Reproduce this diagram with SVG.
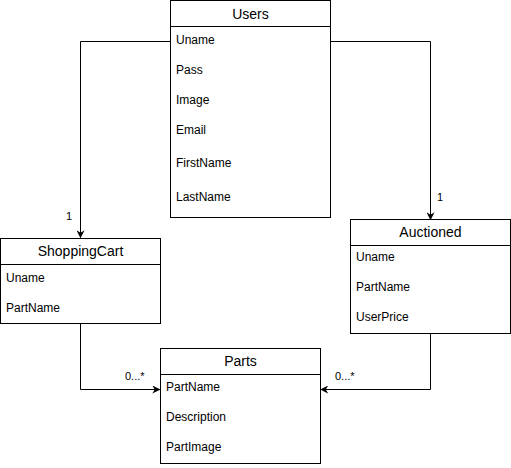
<svg xmlns="http://www.w3.org/2000/svg" width="511" height="468" viewBox="0 0 511 468">
<style>
.box{fill:#fff;stroke:#000;stroke-width:1}
.hd{font-family:"Liberation Sans",Arial,sans-serif;font-size:14px;fill:#000;text-anchor:middle}
.row{font-family:"Liberation Sans",Arial,sans-serif;font-size:12px;fill:#000}
.lbl{font-family:"Liberation Sans",Arial,sans-serif;font-size:11px;fill:#000}
.edge{fill:none;stroke:#000;stroke-width:1}
</style>
<defs>
<marker id="arr" viewBox="0 0 10 10" refX="9" refY="5" markerWidth="8" markerHeight="8" markerUnits="userSpaceOnUse" orient="auto">
<path d="M0,0 L10,5 L0,10 L3,5 Z" fill="#000"/>
</marker>
</defs>
<rect width="511" height="468" fill="#fff"/>
<g id="connectors">
<path class="edge" d="M170.5,41.5 H80.5 V237.5" marker-end="url(#arr)"/>
<path class="edge" d="M330.5,41.5 H430.5 V219.5" marker-end="url(#arr)"/>
<path class="edge" d="M80.5,324 V389.5 H159.5" marker-end="url(#arr)"/>
<path class="edge" d="M430.5,334 V389.5 H321" marker-end="url(#arr)"/>
<text class="lbl" x="66" y="220">1</text>
<text class="lbl" x="437" y="201">1</text>
<text class="lbl" x="125" y="380">0...*</text>
<text class="lbl" x="335" y="380">0...*</text>
</g>
<g id="Users">
<rect class="box" x="170.5" y="0.5" width="160" height="217"/>
<line class="edge" x1="170.5" y1="26.5" x2="330.5" y2="26.5"/>
<text class="hd" x="250.5" y="19">Users</text>
<text class="row" x="176" y="44">Uname</text>
<text class="row" x="176" y="74">Pass</text>
<text class="row" x="176" y="104">Image</text>
<text class="row" x="176" y="134">Email</text>
<text class="row" x="176" y="167">FirstName</text>
<text class="row" x="176" y="201">LastName</text>
</g>
<g id="ShoppingCart">
<rect class="box" x="0.5" y="238.5" width="160" height="85"/>
<line class="edge" x1="0.5" y1="264.5" x2="160.5" y2="264.5"/>
<text class="hd" x="80.5" y="256">ShoppingCart</text>
<text class="row" x="6" y="282">Uname</text>
<text class="row" x="6" y="312">PartName</text>
</g>
<g id="Auctioned">
<rect class="box" x="350.5" y="219.5" width="160" height="114"/>
<line class="edge" x1="350.5" y1="245.5" x2="510.5" y2="245.5"/>
<text class="hd" x="430.5" y="237">Auctioned</text>
<text class="row" x="356" y="261">Uname</text>
<text class="row" x="356" y="291">PartName</text>
<text class="row" x="356" y="321">UserPrice</text>
</g>
<g id="Parts">
<rect class="box" x="160.5" y="348.5" width="160" height="115"/>
<line class="edge" x1="160.5" y1="374.5" x2="320.5" y2="374.5"/>
<text class="hd" x="240.5" y="366">Parts</text>
<text class="row" x="166" y="391">PartName</text>
<text class="row" x="166" y="421">Description</text>
<text class="row" x="166" y="451">PartImage</text>
</g>
</svg>
